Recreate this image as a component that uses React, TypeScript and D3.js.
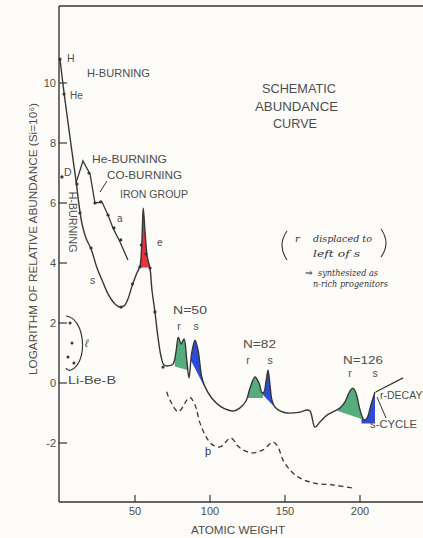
import React from "react";
import * as d3 from "d3";

const W = 423;
const H = 538;

// Main (solid) abundance curve: atomic weight vs log relative abundance (Si = 10^6)
const mainA = [0, 2.7, 5.3, 8.0, 10.7, 12.7, 14.7, 17.3, 20.7, 24.7, 28.0, 32.0, 36.0, 40.0, 42.7, 45.3, 48.0, 50.7, 53.3, 54.5, 55.5, 56.7, 58.2, 60.0, 61.3, 63.3, 65.3, 67.3, 69.3, 72.0, 75.3, 77.3, 78.9, 80.7, 82.7, 84.5, 86.0, 87.8, 90.0, 92.0, 94.5, 96.7, 101.1, 106.7, 112.0, 116.0, 120.0, 124.0, 126.7, 130.0, 132.7, 134.7, 136.0, 137.3, 138.7, 140.0, 141.3, 143.3, 146.7, 151.3, 160.0, 164.7, 166.7, 170.0, 173.3, 178.0, 183.3, 186.7, 190.0, 193.3, 195.3, 197.3, 200.0, 202.7, 204.7, 207.3, 210.0];
const mainLogN = [10.8, 9.67, 8.7, 7.7, 6.73, 5.93, 5.3, 4.83, 4.47, 3.83, 3.43, 2.97, 2.67, 2.53, 2.57, 2.8, 3.23, 3.6, 3.9, 4.6, 5.83, 5.03, 4.2, 3.83, 3.1, 2.37, 1.53, 0.9, 0.6, 0.57, 0.63, 1.03, 1.53, 1.3, 1.47, 0.77, 0.17, 1.0, 1.43, 1.1, 0.2, -0.13, -0.5, -0.77, -0.9, -0.93, -0.83, -0.6, -0.17, 0.2, 0.0, -0.33, -0.3, 0.03, 0.43, -0.07, -0.57, -0.8, -0.93, -1.0, -0.97, -0.9, -0.93, -1.47, -1.3, -1.07, -0.93, -0.83, -0.63, -0.27, -0.17, -0.33, -0.9, -1.23, -1.17, -0.73, -0.3];

// He-burning / CO-burning / alpha branch
const heBranchA = [10.7, 15.3, 20.0, 23.3, 28.0, 32.0, 35.3, 40.0, 45.3];
const heBranchLogN = [6.67, 7.4, 6.97, 6.0, 6.03, 5.6, 5.17, 4.7, 4.1];

// p-process (dashed) curve
const pA = [71.1, 73.3, 78.9, 84.5, 86.7, 90.0, 93.3, 97.8, 102.0, 106.7, 114.0, 118.0, 122.0, 128.7, 135.3, 142.0, 145.3, 148.7, 153.3, 158.7, 168.7, 182.0, 195.3];
const pLogN = [-0.29, -0.57, -0.96, -0.57, -0.48, -0.73, -1.33, -1.83, -2.07, -2.13, -1.83, -2.07, -2.23, -2.33, -2.23, -1.97, -2.13, -2.57, -2.9, -3.13, -3.33, -3.4, -3.5];

// r-decay continuation
const rDecayA = [210.5, 228.7];
const rDecayLogN = [-0.3, 0.17];

// Marked points on the curves
const dotA = [0, 2.7, 11.3, 13.3, 20.7, 40.7, 48.3, 53.3, 54.2, 57.3, 60.0, 63.3, 68.7, 19.3, 23.3, 27.1, 32.0, 36.0, 40.5, 1.3];
const dotLogN = [10.8, 9.63, 6.63, 5.67, 4.5, 2.53, 3.3, 3.87, 4.6, 4.3, 3.83, 2.37, 0.53, 7.0, 6.0, 6.04, 5.6, 5.17, 4.77, 6.87];

// Li-Be-B points
const liBeBA = [6.7, 8.0, 5.3, 9.3];
const liBeBLogN = [2.0, 1.33, 0.87, 0.67];

// Coloured peak regions (process, atomic-weight range, base level)
const peakProcess = ["e", "r", "s", "r", "s", "r", "s"];
const peakFromA = [53.0, 76.5, 87.3, 122.7, 135.4, 185.3, 201.0];
const peakToA = [60.3, 85.0, 96.0, 135.4, 143.0, 201.0, 210.0];
const peakBaseFrom = [3.85, 0.55, 0.75, -0.5, -0.4, -0.93, -1.35];
const peakBaseTo = [3.85, 0.43, -0.1, -0.5, -0.8, -1.2, -1.35];
const processColor: Record<string, string> = { e: "#e5222c", r: "#47a572", s: "#1c3cd2" };

const yTicks = [-2, 0, 2, 4, 6, 8, 10];
const yTickLabels = ["-2", "0", "2", "4", "6", "8", "10"];
const xTicks = [50, 100, 150, 200];
const xTickLabels = ["50", "100", "150", "200"];

const INK = "#363636";
const TXT = "#4d4d4d";
const FONT = "'Liberation Sans', Arial, sans-serif";
const HAND = "'DejaVu Serif', 'Liberation Serif', serif";

export default function App() {
  const left = 59;
  const top = 6;
  const bottom = 502;

  const x = d3.scaleLinear().domain([0, 242]).range([60, 423]);
  const y = d3.scaleLinear().domain([-4, 12.6]).range([503, 5]);

  const line = d3
    .line<[number, number]>()
    .x((d) => x(d[0]))
    .y((d) => y(d[1]))
    .curve(d3.curveCatmullRom.alpha(0.5));
  const straight = d3
    .line<[number, number]>()
    .x((d) => x(d[0]))
    .y((d) => y(d[1]));
  const area = d3
    .area<[number, number]>()
    .x((d) => x(d[0]))
    .y0(y(-4))
    .y1((d) => y(d[1]))
    .curve(d3.curveCatmullRom.alpha(0.5));

  const mainPts = d3.zip(mainA, mainLogN) as [number, number][];
  const hePts = d3.zip(heBranchA, heBranchLogN) as [number, number][];
  const pPts = d3.zip(pA, pLogN) as [number, number][];
  const rdPts = d3.zip(rDecayA, rDecayLogN) as [number, number][];
  const underMain = area(mainPts) || "";

  const t = (s: string, xx: number, yy: number, opts: any = {}) => (
    <text
      x={xx}
      y={yy}
      fontFamily={opts.font ?? FONT}
      fontSize={opts.size ?? 10.5}
      fill={opts.color ?? TXT}
      textAnchor={opts.anchor ?? "start"}
      textLength={opts.len}
      lengthAdjust={opts.len ? "spacingAndGlyphs" : undefined}
      transform={opts.transform}
      fontStyle={opts.italic ? "italic" : undefined}
    >
      {s}
    </text>
  );

  return (
    <div style={{ position: "absolute", left: 0, top: 0 }}>
      <svg width={W} height={H} style={{ display: "block" }}>
        <rect x={0} y={0} width={W} height={H} fill="#fdfcf8" />
        <defs>
          {peakProcess.map((p, i) => (
            <clipPath id={`peak${i}`} key={i}>
              <polygon
                points={[
                  [x(peakFromA[i]), top],
                  [x(peakToA[i]), top],
                  [x(peakToA[i]), y(peakBaseTo[i])],
                  [x(peakFromA[i]), y(peakBaseFrom[i])],
                ]
                  .map((d) => d.join(","))
                  .join(" ")}
              />
            </clipPath>
          ))}
        </defs>

        {/* coloured peaks */}
        {peakProcess.map((p, i) => (
          <path key={i} d={underMain} fill={processColor[p]} opacity={0.92} clipPath={`url(#peak${i})`} />
        ))}

        {/* frame / axes */}
        <line x1={left} y1={top} x2={W} y2={top} stroke={INK} strokeWidth={1.4} />
        <line x1={left} y1={top} x2={left} y2={bottom} stroke={INK} strokeWidth={1.4} />
        <line x1={left} y1={bottom} x2={W} y2={bottom} stroke={INK} strokeWidth={1.4} />
        {yTicks.map((v, i) => (
          <g key={v}>
            <line x1={left} x2={left + 8} y1={y(v)} y2={y(v)} stroke={INK} strokeWidth={1.2} />
            {t(yTickLabels[i], left - 3, y(v) + 4, { anchor: "end", size: 11 })}
          </g>
        ))}
        {xTicks.map((v, i) => (
          <g key={v}>
            <line x1={x(v)} x2={x(v)} y1={bottom} y2={bottom - 7} stroke={INK} strokeWidth={1.2} />
            {t(xTickLabels[i], x(v), 515, { anchor: "middle", size: 11 })}
          </g>
        ))}
        {t("LOGARITHM OF RELATIVE ABUNDANCE (Si=10⁶)", 0, 0, {
          anchor: "middle",
          size: 10.5,
          len: 272,
          transform: "translate(37,239) rotate(-90)",
        })}
        {t("ATOMIC WEIGHT", 191, 534, { size: 11, len: 94 })}

        {/* curves */}
        <path d={line(mainPts) || ""} fill="none" stroke={INK} strokeWidth={1.4} />
        <path d={straight(hePts) || ""} fill="none" stroke={INK} strokeWidth={1.3} />
        <path d={line(pPts) || ""} fill="none" stroke={INK} strokeWidth={1.3} strokeDasharray="5,3.5" />
        <path d={straight(rdPts) || ""} fill="none" stroke={INK} strokeWidth={1.2} />
        {dotA.map((a, i) => (
          <circle key={i} cx={x(a)} cy={y(dotLogN[i])} r={1.6} fill={INK} />
        ))}
        {liBeBA.map((a, i) => (
          <circle key={i} cx={x(a)} cy={y(liBeBLogN[i])} r={1.5} fill={INK} />
        ))}

        {/* Li-Be-B bracket */}
        <path d="M66,316 C85,318 88,360 73,369 Q68,372 66,368" fill="none" stroke={INK} strokeWidth={1.2} />
        {/* leaders */}
        <line x1={100} y1={192} x2={107} y2={181} stroke={INK} strokeWidth={1} />
        <line x1={377} y1={397} x2={386} y2={418} stroke={INK} strokeWidth={1} />

        {/* labels */}
        {t("H", 67, 62, { size: 10.5 })}
        {t("He", 70, 99, { size: 10 })}
        {t("H-BURNING", 87, 77, { size: 10.5, len: 63 })}
        {t("D", 64, 176, { size: 10.5 })}
        {t("He-BURNING", 92, 163, { size: 10.5, len: 75 })}
        {t("CO-BURNING", 107, 179, { size: 10.5, len: 75 })}
        {t("IRON GROUP", 120, 198, { size: 10.5, len: 68 })}
        {t("a", 117, 222, { size: 10 })}
        {t("e", 157, 246, { size: 10 })}
        {t("H-BURNING", 0, 0, {
          size: 10.5,
          anchor: "middle",
          len: 61,
          transform: "translate(69,222) rotate(90)",
        })}
        {t("s", 90, 284, { size: 10.5 })}
        {t("N=50", 173, 314, { size: 11, len: 34 })}
        {t("r", 179, 330, { size: 10.5, anchor: "middle" })}
        {t("s", 196, 330, { size: 10.5, anchor: "middle" })}
        {t("N=82", 243, 348, { size: 11, len: 33 })}
        {t("r", 248, 364, { size: 10.5, anchor: "middle" })}
        {t("s", 270, 364, { size: 10.5, anchor: "middle" })}
        {t("N=126", 343, 364, { size: 11, len: 40 })}
        {t("r", 350, 377, { size: 10.5, anchor: "middle" })}
        {t("s", 375, 377, { size: 10.5, anchor: "middle" })}
        {t("r-DECAY", 380, 399, { size: 10.5 })}
        {t("s-CYCLE", 370, 428, { size: 10.5, len: 47 })}
        {t("þ", 205, 455, { size: 11, color: "#333" })}
        {t("ℓ", 85, 347, { size: 11, italic: true })}
        {t("Li-Be-B", 68, 384, { size: 10.5, len: 48 })}

        {/* title */}
        {t("SCHEMATIC", 262, 93, { size: 13, len: 74 })}
        {t("ABUNDANCE", 255, 111, { size: 13, len: 83 })}
        {t("CURVE", 273, 128, { size: 13, len: 44 })}

        {/* handwritten note */}
        <path d="M287,231 Q277,245 287,260" fill="none" stroke="#333" strokeWidth={1.1} />
        <path d="M381,229 Q391,243 381,257" fill="none" stroke="#333" strokeWidth={1.1} />
        {t("r", 295, 242, { size: 10, font: HAND, italic: true, color: "#333" })}
        {t("displaced to", 313, 242, { size: 9.5, font: HAND, italic: true, color: "#333", len: 59 })}
        {t("left of s", 313, 257, { size: 9.5, font: HAND, italic: true, color: "#333", len: 47 })}
        {t("⇒", 305, 276, { size: 9, font: "'DejaVu Sans', sans-serif", color: "#333" })}
        {t("synthesized as", 318, 276, { size: 8.5, font: HAND, italic: true, color: "#333", len: 60 })}
        {t("n-rich progenitors", 313, 287, { size: 8.5, font: HAND, italic: true, color: "#333", len: 75 })}
      </svg>
    </div>
  );
}
